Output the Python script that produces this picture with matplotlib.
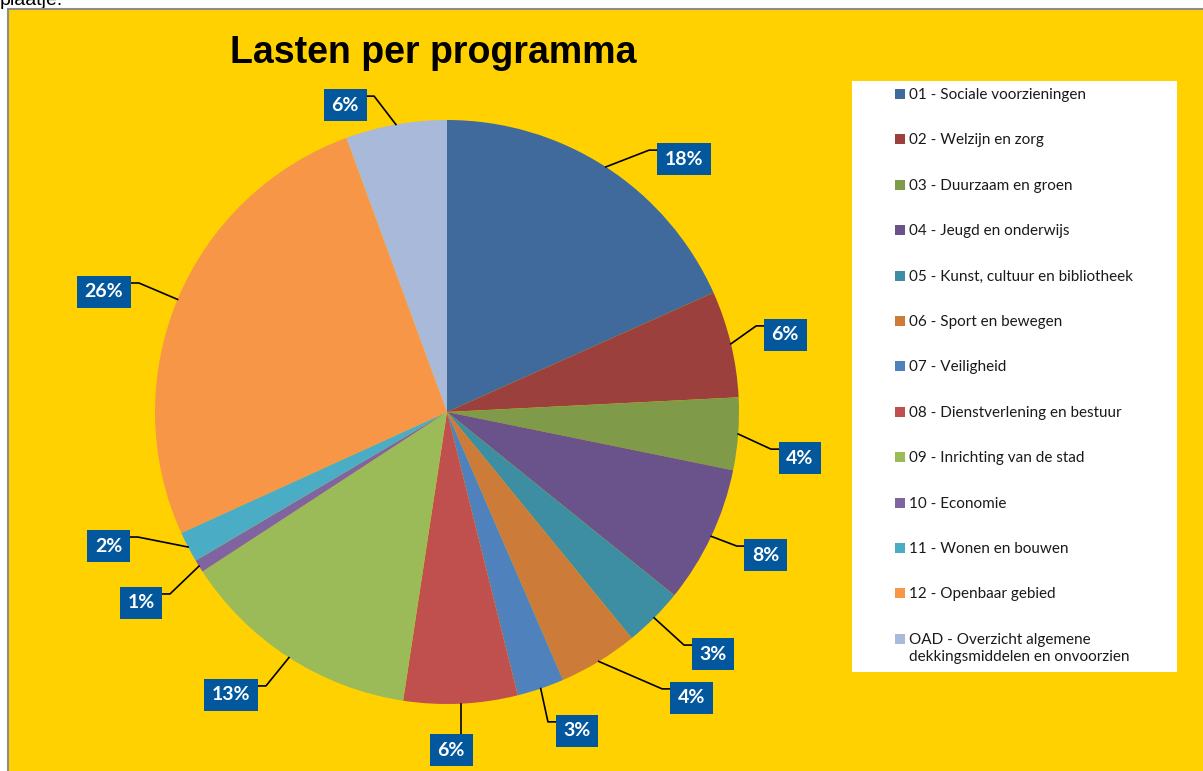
import matplotlib
matplotlib.use('Agg')
import matplotlib.pyplot as plt
from matplotlib.patches import Rectangle
import numpy as np

# Chart data
programmas = ['01 - Sociale voorzieningen', '02 - Welzijn en zorg', '03 - Duurzaam en groen',
              '04 - Jeugd en onderwijs', '05 - Kunst, cultuur en bibliotheek', '06 - Sport en bewegen',
              '07 - Veiligheid', '08 - Dienstverlening en bestuur', '09 - Inrichting van de stad',
              '10 - Economie', '11 - Wonen en bouwen', '12 - Openbaar gebied',
              'OAD - Overzicht algemene\ndekkingsmiddelen en onvoorzien']
aandeel = [18.3, 5.9, 4.0, 7.6, 3.3, 4.4, 2.6, 6.3, 13.4, 0.7, 1.7, 26.2, 5.6]
kleuren = ['#3F6A9B', '#9C403E', '#7F9A49', '#6A528A', '#3D8DA3', '#CC7B39', '#4F81BD',
           '#C0504D', '#9BBB59', '#8064A2', '#4BACC6', '#F79646', '#A8B9D9']

# where the data labels sit (pie units, radius = 1)
label_pos = [(0.812, 0.866), (1.158, 0.264), (1.209, -0.158), (1.092, -0.490),
             (0.911, -0.829), (0.836, -0.979), (0.445, -1.092), (0.014, -1.158),
             (-0.740, -0.969), (-1.048, -0.654), (-1.158, -0.459), (-1.175, 0.411),
             (-0.349, 1.051)]

W, H = 1203, 771
PX = 292.0  # pixels per pie unit
fig = plt.figure(figsize=(W / 100, H / 100), dpi=100)
fig.patch.set_facecolor('white')

# cut-off text above the chart (as in the original screenshot), and the yellow chart area
fig.text(0.0, 1 - 5 / H, 'plaatje.', fontsize=14, family='Liberation Sans',
         va='baseline', ha='left', zorder=-3)
fig.patches.append(Rectangle((8 / W, -0.1), 1.2, 1 - 9 / H + 0.1, transform=fig.transFigure,
                             facecolor='#FFD100', edgecolor='#8C8C8C', linewidth=1.5, zorder=-2))

fig.text(433 / W, 1 - 53 / H, 'Lasten per programma', fontsize=27, fontweight='bold',
         family='Liberation Sans', ha='center', va='center')

# pie axes, centre at pixel (447, 412)
cx, cy = 447, 412
x0, x1, y0, y1 = -1.5, 1.5, -1.2, 1.2
ax = fig.add_axes([(cx + x0 * PX) / W, (H - (cy - y0 * PX)) / H,
                   (x1 - x0) * PX / W, (y1 - y0) * PX / H])
ax.set_facecolor('none')
wedges, _ = ax.pie(aandeel, colors=kleuren, startangle=90, counterclock=False,
                   radius=1, wedgeprops=dict(linewidth=0))
ax.set_xlim(x0, x1)
ax.set_ylim(y0, y1)
ax.set_aspect('equal')
ax.axis('off')

for w, v, (lx, ly) in zip(wedges, aandeel, label_pos):
    tekst = f'{round(v)}%'
    mid = np.deg2rad((w.theta1 + w.theta2) / 2)
    px_, py_ = np.cos(mid), np.sin(mid)
    hw = (20 if len(tekst) == 2 else 26) / PX
    jy = ly + 9 / PX
    if abs(px_ - lx) < hw:
        xs, ys = [px_, px_], [py_, ly]
    else:
        s = 1 if lx > px_ else -1
        ex = lx - s * (hw + 9 / PX)
        xs, ys = [px_, ex, lx], [py_, jy, jy]
    ax.plot(xs, ys, color='black', linewidth=1.2, zorder=3, clip_on=False)
    ax.text(lx, ly, tekst, ha='center', va='center', color='white', fontsize=14,
            fontweight='bold', family='Lato', zorder=4, clip_on=False,
            bbox=dict(boxstyle='square,pad=0.4', facecolor='#03579C', edgecolor='none'))

# legend box, drawn by hand to keep Excel's spacing
fig.patches.append(Rectangle((852 / W, 1 - 672 / H), 325 / W, 591 / H, transform=fig.transFigure,
                             facecolor='white', edgecolor='none', zorder=-1))
for i, (naam, kl) in enumerate(zip(programmas, kleuren)):
    ty = 94 + i * 45.4
    fig.patches.append(Rectangle((895 / W, 1 - (ty + 5) / H), 10 / W, 10 / H,
                                 transform=fig.transFigure, facecolor=kl, edgecolor='none'))
    fig.text(909 / W, 1 - (ty - 6) / H, naam, fontsize=11, family='Lato', color='#1A1A1A',
             ha='left', va='top', linespacing=1.25)

fig.savefig('out.png', dpi=100)
